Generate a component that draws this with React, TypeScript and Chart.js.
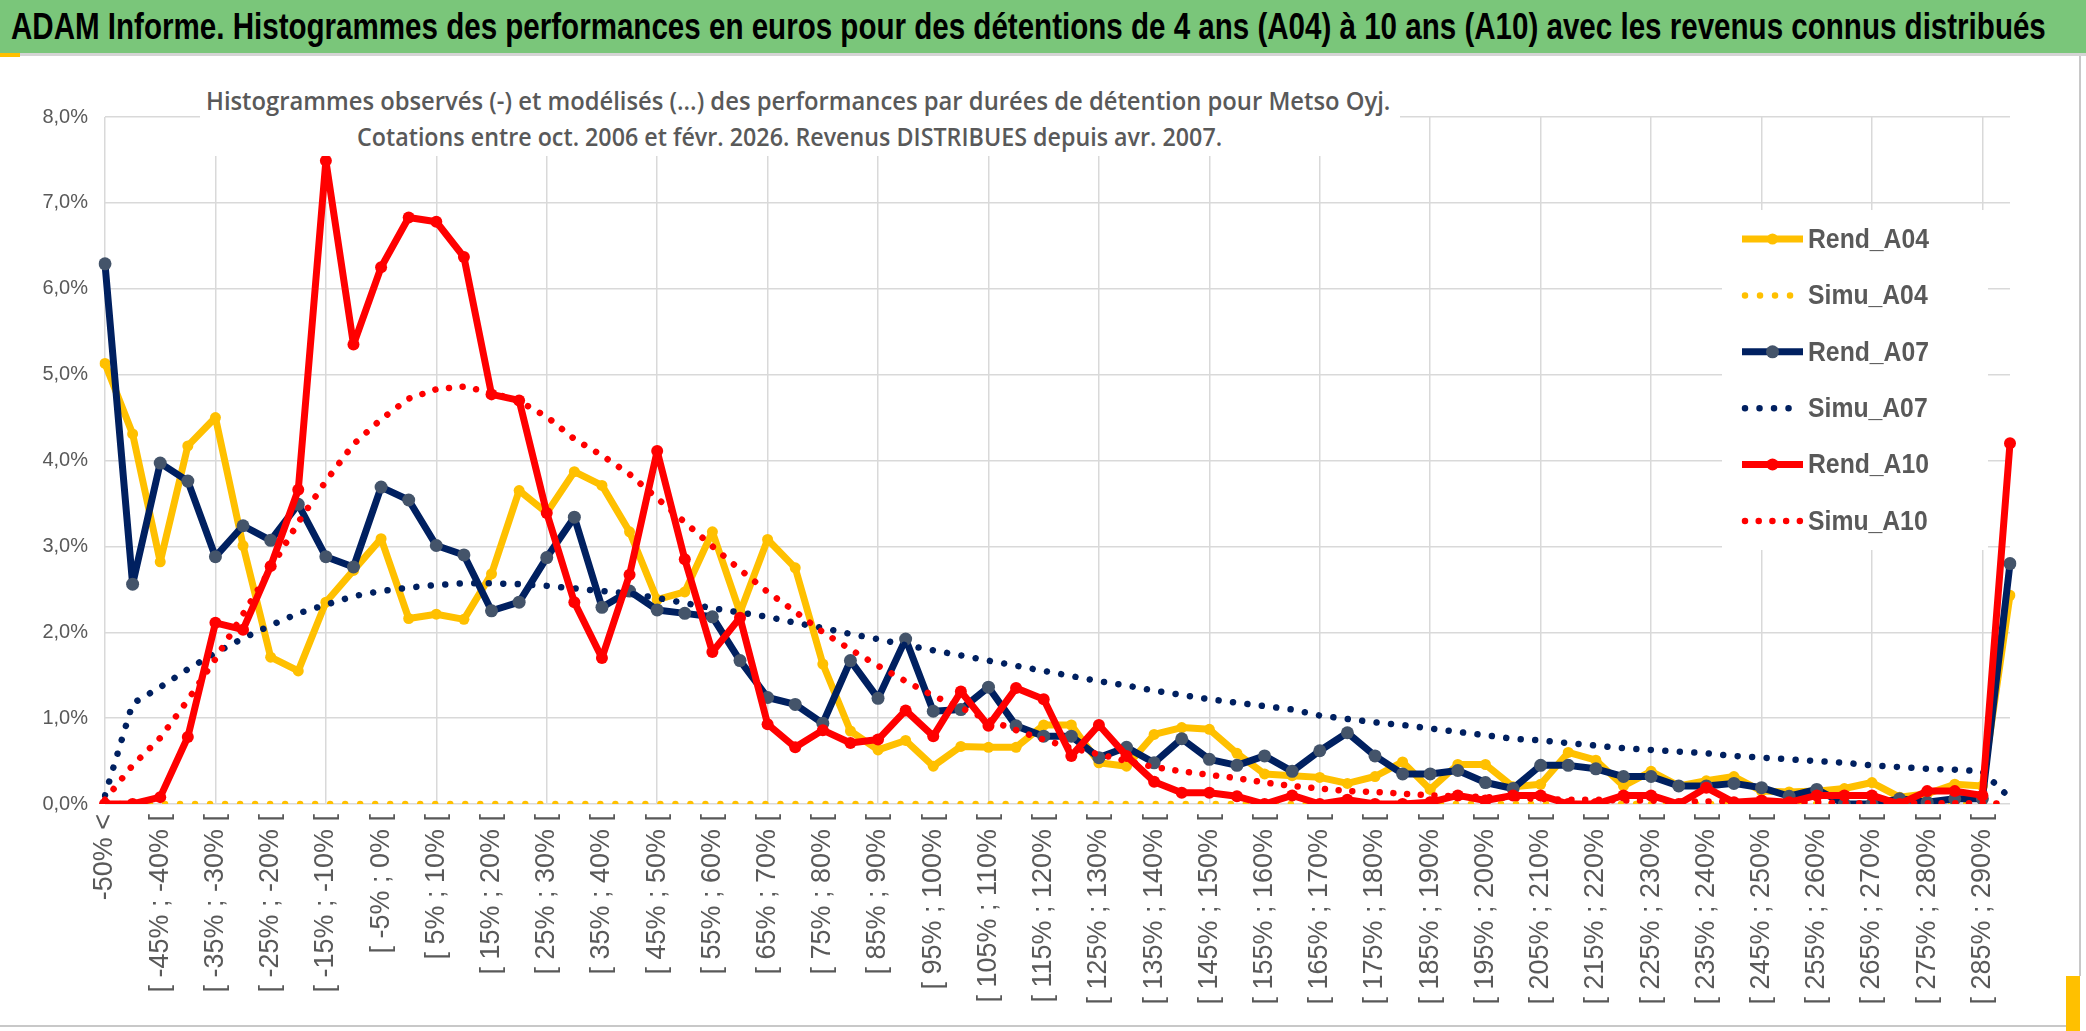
import React, { useEffect, useLayoutEffect, useRef, useState } from "react";
import { Chart, registerables } from "chart.js";

Chart.register(...registerables);

const W = 2086;
const H = 1031;
const FAMILY = '"Liberation Sans", Arial, sans-serif';
const TEXT = "#595959";
const GRID = "#D9D9D9";
const YEL = "#FFC000";
const NAVY = "#002060";
const NAVY_PT = "#44546A";
const RED = "#FF0000";

const MAIN_TITLE =
  "ADAM Informe. Histogrammes des performances en euros pour des détentions de 4 ans (A04) à 10 ans (A10) avec les revenus connus distribués";
const SUB_1 =
  "Histogrammes observés (-) et modélisés (...) des performances par durées de détention pour Metso Oyj.";
const SUB_2 =
  "Cotations entre oct. 2006 et févr. 2026. Revenus DISTRIBUES depuis avr. 2007.";

const categories: string[] = [
  "-50% <",
  "[ -50% ; -45% [", "[ -45% ; -40% [", "[ -40% ; -35% [", "[ -35% ; -30% [", "[ -30% ; -25% [",
  "[ -25% ; -20% [", "[ -20% ; -15% [", "[ -15% ; -10% [", "[ -10% ; -5% [", "[ -5% ; 0% [",
  "[ 0% ; 5% [", "[ 5% ; 10% [", "[ 10% ; 15% [", "[ 15% ; 20% [", "[ 20% ; 25% [",
  "[ 25% ; 30% [", "[ 30% ; 35% [", "[ 35% ; 40% [", "[ 40% ; 45% [", "[ 45% ; 50% [",
  "[ 50% ; 55% [", "[ 55% ; 60% [", "[ 60% ; 65% [", "[ 65% ; 70% [", "[ 70% ; 75% [",
  "[ 75% ; 80% [", "[ 80% ; 85% [", "[ 85% ; 90% [", "[ 90% ; 95% [", "[ 95% ; 100% [",
  "[ 100% ; 105% [", "[ 105% ; 110% [", "[ 110% ; 115% [", "[ 115% ; 120% [", "[ 120% ; 125% [",
  "[ 125% ; 130% [", "[ 130% ; 135% [", "[ 135% ; 140% [", "[ 140% ; 145% [", "[ 145% ; 150% [",
  "[ 150% ; 155% [", "[ 155% ; 160% [", "[ 160% ; 165% [", "[ 165% ; 170% [", "[ 170% ; 175% [",
  "[ 175% ; 180% [", "[ 180% ; 185% [", "[ 185% ; 190% [", "[ 190% ; 195% [", "[ 195% ; 200% [",
  "[ 200% ; 205% [", "[ 205% ; 210% [", "[ 210% ; 215% [", "[ 215% ; 220% [", "[ 220% ; 225% [",
  "[ 225% ; 230% [", "[ 230% ; 235% [", "[ 235% ; 240% [", "[ 240% ; 245% [", "[ 245% ; 250% [",
  "[ 250% ; 255% [", "[ 255% ; 260% [", "[ 260% ; 265% [", "[ 265% ; 270% [", "[ 270% ; 275% [",
  "[ 275% ; 280% [", "[ 280% ; 285% [", "[ 285% ; 290% [",
  "> 290%",
];

const yTicks: number[] = [0, 1, 2, 3, 4, 5, 6, 7, 8];

const rendA04: number[] = [
  5.13, 4.31, 2.82, 4.17, 4.50, 3.01, 1.71, 1.55, 2.35, 2.72,
  3.09, 2.16, 2.21, 2.15, 2.68, 3.65, 3.39, 3.87, 3.71, 3.17,
  2.38, 2.47, 3.17, 2.23, 3.08, 2.75, 1.63, 0.85, 0.63, 0.74,
  0.44, 0.67, 0.66, 0.66, 0.92, 0.92, 0.48, 0.44, 0.81, 0.89,
  0.87, 0.59, 0.35, 0.33, 0.31, 0.24, 0.32, 0.49, 0.17, 0.46,
  0.46, 0.20, 0.23, 0.60, 0.51, 0.21, 0.38, 0.21, 0.27, 0.32,
  0.15, 0.14, 0.15, 0.18, 0.25, 0.08, 0.12, 0.23, 0.21, 2.43,
];

const simuA04: number[] = [
  0, 0, 0, 0, 0, 0, 0, 0, 0, 0,
  0, 0, 0, 0, 0, 0, 0, 0, 0, 0,
  0, 0, 0, 0, 0, 0, 0, 0, 0, 0,
  0, 0, 0, 0, 0, 0, 0, 0, 0, 0,
  0, 0, 0, 0, 0, 0, 0, 0, 0, 0,
  0, 0, 0, 0, 0, 0, 0, 0, 0, 0,
  0, 0, 0, 0, 0, 0, 0, 0, 0, 0,
];

const rendA07: number[] = [
  6.29, 2.56, 3.97, 3.76, 2.88, 3.24, 3.07, 3.49, 2.88, 2.76,
  3.69, 3.54, 3.01, 2.90, 2.25, 2.35, 2.87, 3.34, 2.29, 2.48,
  2.26, 2.22, 2.18, 1.67, 1.24, 1.16, 0.94, 1.67, 1.23, 1.92,
  1.08, 1.10, 1.36, 0.91, 0.79, 0.79, 0.54, 0.66, 0.48, 0.76,
  0.52, 0.45, 0.56, 0.38, 0.62, 0.83, 0.56, 0.35, 0.35, 0.39,
  0.25, 0.18, 0.45, 0.45, 0.41, 0.32, 0.32, 0.21, 0.21, 0.24,
  0.19, 0.09, 0.17, 0.00, 0.00, 0.06, 0.02, 0.06, 0.06, 2.80,
];

const simuA07: number[] = [
  0.10, 1.17, 1.36, 1.57, 1.76, 1.93, 2.08, 2.22, 2.32, 2.42,
  2.48, 2.52, 2.55, 2.57, 2.57, 2.56, 2.54, 2.51, 2.48, 2.45,
  2.40, 2.34, 2.28, 2.23, 2.18, 2.11, 2.05, 1.98, 1.92, 1.85,
  1.79, 1.73, 1.67, 1.61, 1.55, 1.49, 1.43, 1.38, 1.32, 1.27,
  1.22, 1.18, 1.14, 1.10, 1.03, 0.99, 0.95, 0.92, 0.88, 0.84,
  0.80, 0.76, 0.74, 0.71, 0.68, 0.65, 0.63, 0.61, 0.59, 0.56,
  0.54, 0.52, 0.50, 0.48, 0.45, 0.43, 0.41, 0.40, 0.38, 0.07,
];

const rendA10: number[] = [
  0.00, 0.00, 0.08, 0.78, 2.11, 2.03, 2.77, 3.66, 7.49, 5.35,
  6.25, 6.83, 6.78, 6.37, 4.77, 4.70, 3.39, 2.35, 1.70, 2.67,
  4.11, 2.85, 1.77, 2.17, 0.93, 0.66, 0.86, 0.71, 0.75, 1.09,
  0.79, 1.31, 0.91, 1.35, 1.22, 0.56, 0.92, 0.56, 0.26, 0.13,
  0.13, 0.09, 0.00, 0.10, 0.00, 0.05, 0.00, 0.00, 0.02, 0.10,
  0.04, 0.10, 0.10, 0.00, 0.00, 0.10, 0.10, 0.00, 0.19, 0.02,
  0.04, 0.02, 0.10, 0.10, 0.10, 0.00, 0.15, 0.15, 0.10, 4.20,
];

const simuA10: number[] = [
  0.05, 0.45, 0.77, 1.21, 1.69, 2.21, 2.74, 3.28, 3.76, 4.19,
  4.48, 4.72, 4.83, 4.86, 4.79, 4.69, 4.51, 4.25, 4.06, 3.84,
  3.56, 3.28, 3.00, 2.73, 2.47, 2.24, 2.00, 1.80, 1.61, 1.43,
  1.26, 1.12, 0.98, 0.86, 0.75, 0.65, 0.58, 0.50, 0.43, 0.38,
  0.34, 0.30, 0.25, 0.21, 0.18, 0.15, 0.14, 0.12, 0.10, 0.09,
  0.08, 0.07, 0.06, 0.05, 0.05, 0.04, 0.04, 0.03, 0.03, 0.03,
  0.02, 0.02, 0.02, 0.01, 0.01, 0.01, 0.01, 0.01, 0.01, 0.00,
];

const PLOT_TOP = 117;
const PLOT_BOTTOM = 804;
const PLOT_LEFT = 105;
const PLOT_RIGHT = 2010;

const legendPlugin = {
  id: "boxLegend",
  afterDraw(chart: any) {
    const ctx: CanvasRenderingContext2D = chart.ctx;
    ctx.save();
    ctx.fillStyle = "#ffffff";
    ctx.fillRect(1722, 210, 266, 340);
    ctx.font = `bold 28px ${FAMILY}`;
    const ref = ctx.measureText("Rend_A04").width;
    const kx = ref > 0 ? 121 / ref : 1;
    chart.data.datasets.forEach((ds: any, i: number) => {
      const y = 239 + 56.4 * i;
      ctx.strokeStyle = ds.borderColor;
      ctx.lineWidth = ds.borderWidth;
      if (ds.borderDash) {
        ctx.setLineDash(ds.borderDash);
        ctx.lineCap = "round";
        ctx.beginPath();
        ctx.moveTo(1745, y);
        ctx.lineTo(1801, y);
        ctx.stroke();
        ctx.setLineDash([]);
      } else {
        ctx.lineCap = "butt";
        ctx.beginPath();
        ctx.moveTo(1742, y);
        ctx.lineTo(1803, y);
        ctx.stroke();
      }
      if (ds.pointRadius > 0) {
        ctx.fillStyle = ds.pointBackgroundColor;
        ctx.beginPath();
        ctx.arc(1772.5, y, ds.pointRadius, 0, Math.PI * 2);
        ctx.fill();
      }
      ctx.save();
      ctx.translate(1808, y + 1);
      ctx.scale(kx, 1);
      ctx.fillStyle = TEXT;
      ctx.textBaseline = "middle";
      ctx.textAlign = "left";
      ctx.fillText(ds.label, 0, 0);
      ctx.restore();
    });
    ctx.restore();
  },
};

function FitText(props: {
  text: string;
  x: number;
  y: number;
  width: number;
  size: number;
  weight: number | string;
  color: string;
  family: string;
  align: "left" | "center";
}) {
  const ref = useRef<HTMLSpanElement>(null);
  const [k, setK] = useState(1);
  useLayoutEffect(() => {
    const el = ref.current;
    if (!el) return;
    const w = el.offsetWidth;
    if (w > 0) setK(props.width / w);
  }, [props.text, props.width, props.size]);
  const left = props.align === "center" ? props.x - props.width / 2 : props.x;
  return (
    <span
      ref={ref}
      style={{
        position: "absolute",
        left,
        top: props.y,
        transform: `translateY(-50%) scaleX(${k})`,
        transformOrigin: "left center",
        whiteSpace: "nowrap",
        fontSize: props.size,
        fontWeight: props.weight as any,
        color: props.color,
        fontFamily: props.family,
        lineHeight: 1,
      }}
    >
      {props.text}
    </span>
  );
}

export default function App() {
  const canvasRef = useRef<HTMLCanvasElement>(null);

  useEffect(() => {
    document.body.style.margin = "0";
    const canvas = canvasRef.current;
    if (!canvas) return;
    const chart = new Chart(canvas, {
      type: "line",
      data: {
        labels: categories,
        datasets: [
          {
            label: "Rend_A04",
            data: rendA04,
            borderColor: YEL,
            backgroundColor: YEL,
            borderWidth: 7,
            borderJoinStyle: "round",
            pointRadius: 5.5,
            pointBackgroundColor: YEL,
            pointBorderWidth: 0,
            order: 0,
          },
          {
            label: "Simu_A04",
            data: simuA04,
            borderColor: YEL,
            backgroundColor: YEL,
            borderWidth: 6.5,
            borderDash: [0.01, 15],
            borderCapStyle: "round",
            pointRadius: 0,
            order: -1,
          },
          {
            label: "Rend_A07",
            data: rendA07,
            borderColor: NAVY,
            backgroundColor: NAVY,
            borderWidth: 7,
            borderJoinStyle: "round",
            pointRadius: 6.5,
            pointBackgroundColor: NAVY_PT,
            pointBorderWidth: 0,
            order: -2,
          },
          {
            label: "Simu_A07",
            data: simuA07,
            borderColor: NAVY,
            backgroundColor: NAVY,
            borderWidth: 6.5,
            borderDash: [0.01, 14.5],
            borderCapStyle: "round",
            pointRadius: 0,
            order: -3,
          },
          {
            label: "Rend_A10",
            data: rendA10,
            borderColor: RED,
            backgroundColor: RED,
            borderWidth: 7,
            borderJoinStyle: "round",
            pointRadius: 6,
            pointBackgroundColor: RED,
            pointBorderWidth: 0,
            order: -4,
          },
          {
            label: "Simu_A10",
            data: simuA10,
            borderColor: RED,
            backgroundColor: RED,
            borderWidth: 6.5,
            borderDash: [0.01, 13.7],
            borderCapStyle: "round",
            pointRadius: 0,
            order: -5,
          },
        ] as any,
      },
      options: {
        responsive: false,
        animation: false,
        devicePixelRatio: 1,
        layout: {
          padding: { top: PLOT_TOP, left: 0, right: W - PLOT_RIGHT, bottom: 0 },
        },
        plugins: {
          legend: { display: false },
          title: { display: false },
          tooltip: { enabled: false },
        },
        elements: { line: { tension: 0 } },
        scales: {
          x: {
            type: "category",
            offset: false,
            grid: {
              color: (c: any) => (c.index % 4 === 0 ? GRID : "rgba(0,0,0,0)"),
              lineWidth: 1.5,
              drawTicks: false,
            },
            border: { display: false },
            ticks: {
              autoSkip: false,
              maxRotation: 90,
              minRotation: 90,
              padding: 10,
              color: TEXT,
              font: { family: FAMILY, size: 27 },
              callback: (_v: any, i: number) => (i % 2 === 0 ? categories[i] : ""),
            },
            afterFit: (s: any) => {
              s.height = H - PLOT_BOTTOM;
            },
          },
          y: {
            min: yTicks[0],
            max: yTicks[yTicks.length - 1],
            ticks: {
              stepSize: 1,
              padding: 17,
              color: TEXT,
              font: { family: FAMILY, size: 20 },
              callback: (v: any) => Number(v).toFixed(1).replace(".", ",") + "%",
            },
            grid: { color: GRID, lineWidth: 1.5, drawTicks: false },
            border: { display: false },
            afterFit: (s: any) => {
              s.width = PLOT_LEFT;
            },
          },
        },
      } as any,
      plugins: [legendPlugin],
    });
    return () => chart.destroy();
  }, []);

  return (
    <div
      style={{
        position: "fixed",
        left: 0,
        top: 0,
        width: W,
        height: H,
        background: "#ffffff",
        overflow: "hidden",
      }}
    >
      <canvas
        ref={canvasRef}
        width={W}
        height={H}
        style={{ position: "absolute", left: 0, top: 0, width: W, height: H }}
      />
      <div style={{ position: "absolute", left: 0, top: 0, width: W, height: 53, background: "#7AC67A" }} />
      <div style={{ position: "absolute", left: 0, top: 53, width: W, height: 3, background: "#D4D4D4" }} />
      <div style={{ position: "absolute", left: 0, top: 53, width: 20, height: 4, background: YEL }} />
      <div style={{ position: "absolute", left: 2079, top: 56, width: 2, height: 920, background: "#C8C8C8" }} />
      <div style={{ position: "absolute", left: 0, top: 1025, width: 2066, height: 2, background: "#C8C8C8" }} />
      <div style={{ position: "absolute", left: 2066, top: 976, width: 14, height: 55, background: YEL }} />
      <FitText
        text={MAIN_TITLE}
        x={11}
        y={27}
        width={2035}
        size={36}
        weight={700}
        color="#000000"
        family={FAMILY}
        align="left"
      />
      <div style={{ position: "absolute", left: 200, top: 66, width: 1200, height: 90, background: "#ffffff" }} />
      <FitText
        text={SUB_1}
        x={798}
        y={100}
        width={1184}
        size={25}
        weight={600}
        color={TEXT}
        family={'"Open Sans", "Liberation Sans", sans-serif'}
        align="center"
      />
      <FitText
        text={SUB_2}
        x={789}
        y={136}
        width={865}
        size={25}
        weight={600}
        color={TEXT}
        family={'"Open Sans", "Liberation Sans", sans-serif'}
        align="center"
      />
    </div>
  );
}
